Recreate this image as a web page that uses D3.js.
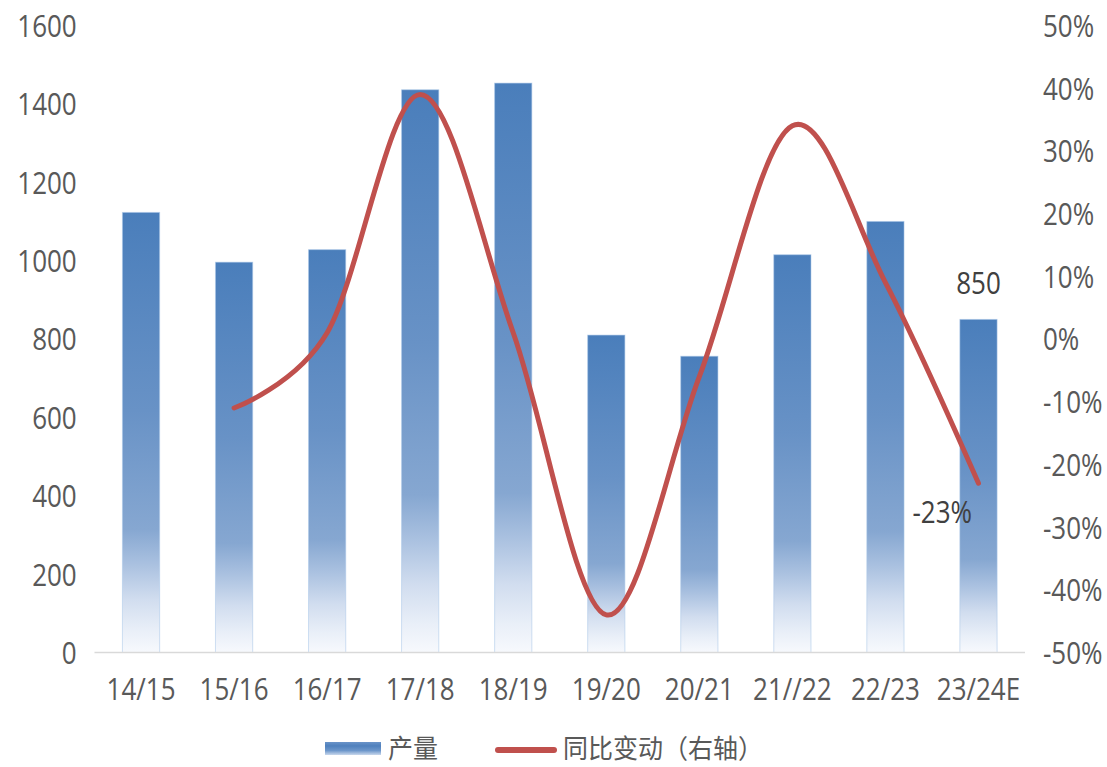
<!DOCTYPE html>
<html>
<head>
<meta charset="utf-8">
<script src="https://cdn.jsdelivr.net/npm/d3@7"></script>
<style>
  html, body { margin: 0; padding: 0; background: #ffffff; }
  svg { display: block; }
  text { font-family: "Open Sans", "Noto Sans", sans-serif; }
  .cjk { font-family: "Noto Sans CJK SC", "Noto Sans", sans-serif; }
</style>
</head>
<body>
<svg id="chart" width="1107" height="767"></svg>
<script>
// Marketing years
const categories = ["14/15", "15/16", "16/17", "17/18", "18/19", "19/20", "20/21", "21//22", "22/23", "23/24E"];
// Production (left axis)
const output = [1123, 996, 1028, 1436, 1453, 810, 756, 1015, 1100, 850];
// Year-on-year change (right axis); first year has no prior value
const yoy = [null, -0.11, 0.01, 0.39, 0.01, -0.44, -0.06, 0.34, 0.09, -0.23];
// Axis ticks
const leftTicks = [0, 200, 400, 600, 800, 1000, 1200, 1400, 1600];
const rightTicks = [-0.5, -0.4, -0.3, -0.2, -0.1, 0, 0.1, 0.2, 0.3, 0.4, 0.5];
// Legend entries
const legendNames = ["产量", "同比变动（右轴）"];

const svg = d3.select("#chart");
const plot = { left: 94.5, right: 1025, top: 25.5, bottom: 652.5 };
const TEXT_STRETCH = 1.17;
const textColor = "#595959";
const lineColor = "#c0504d";

// Percent format with a plain hyphen for negatives
const pct = v => d3.format(".0%")(v).replace("\u2212", "-");

const x = d3.scaleBand()
  .domain(categories)
  .range([plot.left, plot.right])
  .paddingInner(0.6)
  .paddingOuter(0.3);

const yLeft = d3.scaleLinear().domain([0, 1600]).range([plot.bottom, plot.top]);
const yRight = d3.scaleLinear().domain([-0.5, 0.5]).range([plot.bottom, plot.top]);

// Gradients
const defs = svg.append("defs");
const barGrad = defs.append("linearGradient")
  .attr("id", "barGrad").attr("x1", 0).attr("y1", 0).attr("x2", 0).attr("y2", 1);
[[0, "#4a7ebb"], [0.45, "#6892c6"], [0.72, "#86a7d1"], [0.8, "#aac1e0"],
 [0.88, "#d1ddef"], [0.95, "#e9eff8"], [1, "#f7f9fd"]]
  .forEach(([o, c]) => barGrad.append("stop").attr("offset", o).attr("stop-color", c));

const legGrad = defs.append("linearGradient")
  .attr("id", "legGrad").attr("x1", 0).attr("y1", 0).attr("x2", 0).attr("y2", 1);
[[0, "#6a93c8"], [0.3, "#4f80bd"], [0.65, "#6c96ca"], [1, "#c9d8ec"]]
  .forEach(([o, c]) => legGrad.append("stop").attr("offset", o).attr("stop-color", c));

// Bars
svg.append("g").selectAll("rect")
  .data(categories)
  .join("rect")
  .attr("x", d => x(d))
  .attr("width", x.bandwidth())
  .attr("y", (d, i) => yLeft(output[i]))
  .attr("height", (d, i) => yLeft(0) - yLeft(output[i]))
  .attr("fill", "url(#barGrad)")
  .attr("stroke", "rgba(170,198,232,0.55)")
  .attr("stroke-width", 1);

// Category axis
const xAxis = svg.append("g")
  .attr("transform", `translate(0,${plot.bottom})`)
  .call(d3.axisBottom(x).tickSize(0).tickPadding(0));
xAxis.select(".domain").attr("stroke", "#d9d9d9").attr("stroke-width", 1.5)
  .attr("d", `M${plot.left},0H${plot.right}`);
xAxis.selectAll("text")
  .attr("y", 40.5).attr("dy", 0)
  .attr("transform", `scale(1,${TEXT_STRETCH})`)
  .attr("fill", textColor).style("font-size", "26px");

// Left axis
const yAxisL = svg.append("g")
  .attr("transform", `translate(${plot.left},0)`)
  .call(d3.axisLeft(yLeft).tickValues(leftTicks).tickFormat(d3.format("d")).tickSize(0).tickPadding(0));
yAxisL.select(".domain").remove();
yAxisL.selectAll("text")
  .attr("x", -17.8).attr("dy", "0.36em")
  .attr("transform", `scale(1,${TEXT_STRETCH})`)
  .attr("fill", textColor).style("font-size", "26px");

// Right axis
const yAxisR = svg.append("g")
  .attr("transform", `translate(${plot.right},0)`)
  .call(d3.axisRight(yRight).tickValues(rightTicks).tickFormat(pct).tickSize(0).tickPadding(0));
yAxisR.select(".domain").remove();
yAxisR.selectAll("text")
  .attr("x", 18).attr("dy", "0.36em")
  .attr("transform", `scale(1,${TEXT_STRETCH})`)
  .attr("fill", textColor).style("font-size", "26px");

svg.selectAll(".tick text").style("font-family", '"Open Sans", "Noto Sans", sans-serif');

// Smoothed YoY line
const linePts = categories
  .map((c, i) => ({ c, v: yoy[i] }))
  .filter(d => d.v !== null);
const line = d3.line()
  .x(d => x(d.c) + x.bandwidth() / 2)
  .y(d => yRight(d.v))
  .curve(d3.curveCardinal.tension(0));
svg.append("path")
  .datum(linePts)
  .attr("d", line)
  .attr("fill", "none")
  .attr("stroke", lineColor)
  .attr("stroke-width", 5)
  .attr("stroke-linecap", "round")
  .attr("stroke-linejoin", "round");

// Helper: vertically centred, stretched text
function label(g, px, py, str, anchor, size, cls, color, stretch) {
  g.append("g").attr("transform", `translate(${px},${py})`)
    .append("text")
    .attr("class", cls || null)
    .attr("text-anchor", anchor)
    .attr("dy", "0.36em")
    .attr("transform", `scale(1,${stretch || TEXT_STRETCH})`)
    .attr("fill", color || textColor)
    .style("font-size", size + "px")
    .text(str);
}

// Data labels for the last year
const last = categories.length - 1;
const lastX = x(categories[last]) + x.bandwidth() / 2;
const labels = svg.append("g");
label(labels, lastX, yLeft(output[last]) - 36, String(output[last]), "middle", 26, null, "#404040");
label(labels, lastX - 6.5, yRight(yoy[last]) + 28.5, pct(yoy[last]), "end", 26, null, "#404040");

// Legend
const legend = svg.append("g");
legend.append("rect")
  .attr("x", 325).attr("y", 742).attr("width", 56).attr("height", 13)
  .attr("fill", "url(#legGrad)");
label(legend, 388, 749, legendNames[0], "start", 25, "cjk", textColor, 1.05);
legend.append("line")
  .attr("x1", 498).attr("x2", 554).attr("y1", 750).attr("y2", 750)
  .attr("stroke", lineColor).attr("stroke-width", 6).attr("stroke-linecap", "round");
label(legend, 563, 749, legendNames[1], "start", 25, "cjk", textColor, 1.05);
</script>
</body>
</html>
